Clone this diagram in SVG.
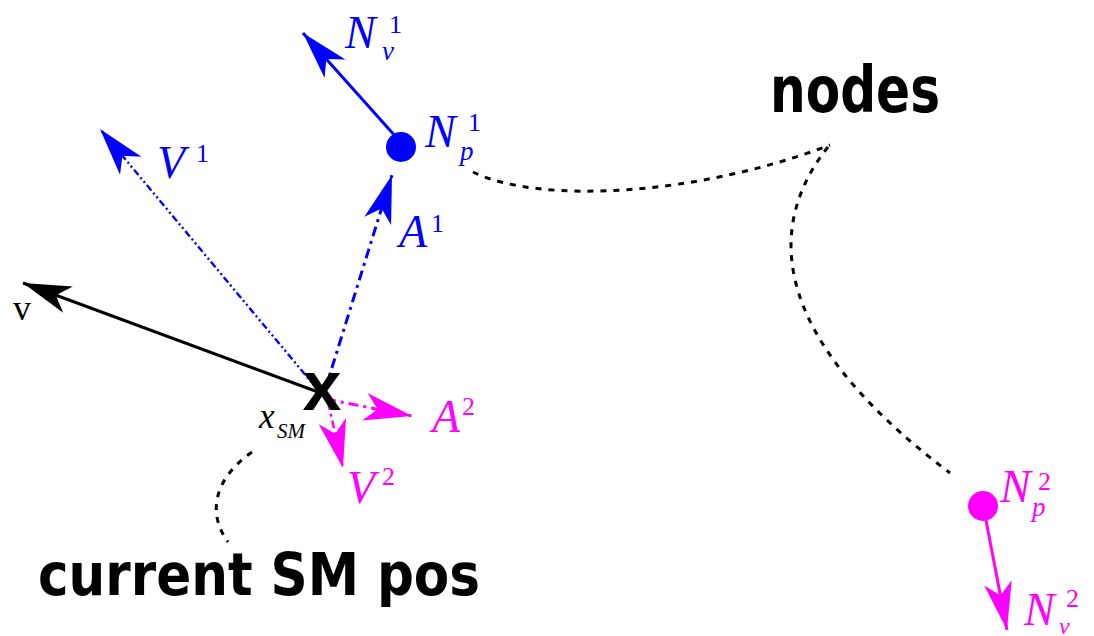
<svg xmlns="http://www.w3.org/2000/svg" width="1094" height="636" viewBox="0 0 1094 636">
<style>
.m{font-family:"Liberation Serif","Times New Roman",serif;font-style:italic;font-size:46px}
.s{font-family:"Liberation Serif","Times New Roman",serif;font-size:26px}
.si{font-family:"Liberation Serif","Times New Roman",serif;font-style:italic;font-size:27px}
.big{font-family:"DejaVu Sans",sans-serif;font-weight:bold}
.blue{fill:#0000ff}
.mag{fill:#ff00ff}
.dot{fill:none;stroke:#000;stroke-width:3;stroke-dasharray:6 7}
</style>
<defs>
<marker id="hk" markerUnits="userSpaceOnUse" viewBox="0 0 48 28" markerWidth="48" markerHeight="28" refX="48" refY="14" orient="auto" overflow="visible"><path d="M48,14 L0,0 L13,14 L0,28 Z" fill="#000"/></marker>
<marker id="hb" markerUnits="userSpaceOnUse" viewBox="0 0 48 28" markerWidth="48" markerHeight="28" refX="48" refY="14" orient="auto" overflow="visible"><path d="M48,14 L0,0 L13,14 L0,28 Z" fill="#0000ff"/></marker>
<marker id="hm" markerUnits="userSpaceOnUse" viewBox="0 0 48 28" markerWidth="48" markerHeight="28" refX="48" refY="14" orient="auto" overflow="visible"><path d="M48,14 L0,0 L13,14 L0,28 Z" fill="#ff00ff"/></marker>
</defs>

<g id="connectors">
<path d="M473,172 C540,205 700,195 830,145" class="dot"/>
<path d="M828,147 C770,220 760,330 950,473" class="dot"/>
<path d="M252,452 C212,480 208,515 228,542" class="dot"/>
<line x1="318" y1="392" x2="23" y2="283" stroke="#000" stroke-width="3" marker-end="url(#hk)"/>
<line x1="318" y1="390" x2="100" y2="129" stroke="#0000ff" stroke-width="2.4" stroke-dasharray="7 3 2 3 2 3" marker-end="url(#hb)"/>
<line x1="325" y1="390" x2="392" y2="175" stroke="#0000ff" stroke-width="3" stroke-dasharray="10 5 3 5" marker-end="url(#hb)"/>
<line x1="396" y1="137" x2="303" y2="33" stroke="#0000ff" stroke-width="3" marker-end="url(#hb)"/>
<line x1="326" y1="399" x2="412" y2="416" stroke="#ff00ff" stroke-width="3" stroke-dasharray="10 5 3 5" marker-end="url(#hm)"/>
<line x1="328" y1="402" x2="343" y2="468" stroke="#ff00ff" stroke-width="2.5" stroke-dasharray="8 4 3 4" marker-end="url(#hm)"/>
<line x1="985" y1="515" x2="1007" y2="630" stroke="#ff00ff" stroke-width="3" marker-end="url(#hm)"/>
</g>

<g id="node-sm">
<text x="322" y="410" text-anchor="middle" font-family="Liberation Sans,Arial,sans-serif" font-weight="bold" font-size="70">x</text>
<text x="259" y="428" font-family="Liberation Serif,serif" font-style="italic" font-size="35">x</text>
<text x="277" y="438" font-family="Liberation Serif,serif" font-style="italic" font-size="21">SM</text>
</g>

<g id="label-v">
<text x="13" y="320" font-family="Liberation Serif,serif" font-size="36">v</text>
</g>

<g id="node-1">
<circle cx="401" cy="147" r="15" fill="#0000ff"/>
<text x="425" y="147" class="m blue">N</text>
<text x="468" y="131" class="s blue">1</text>
<text x="460" y="160" class="si blue">p</text>
<text x="345" y="48" class="m blue">N</text>
<text x="389" y="33" class="s blue">1</text>
<text x="382" y="60" class="si blue">v</text>
<text x="157" y="178" class="m blue">V</text>
<text x="196" y="162" class="s blue">1</text>
<text x="399" y="247" class="m blue">A</text>
<text x="431" y="232" class="s blue">1</text>
</g>

<g id="node-2">
<circle cx="983" cy="506" r="15" fill="#ff00ff"/>
<text x="1000" y="502" class="m mag">N</text>
<text x="1038" y="490" class="s mag">2</text>
<text x="1032" y="516" class="si mag">p</text>
<text x="1024" y="625" class="m mag">N</text>
<text x="1066" y="607" class="s mag">2</text>
<text x="1059" y="634" font-family="Liberation Serif,serif" font-style="italic" font-size="24" fill="#ff00ff">v</text>
<text x="432" y="432" class="m mag">A</text>
<text x="462" y="415" class="s mag">2</text>
<text x="347" y="503" class="m mag">V</text>
<text x="382" y="485" class="s mag">2</text>
</g>

<g id="label-nodes">
<text x="770" y="112" class="big" font-size="64" textLength="170" lengthAdjust="spacingAndGlyphs">nodes</text>
</g>
<g id="label-current">
<text x="38" y="595" class="big" font-size="58" textLength="442" lengthAdjust="spacingAndGlyphs">current SM pos</text>
</g>
</svg>
